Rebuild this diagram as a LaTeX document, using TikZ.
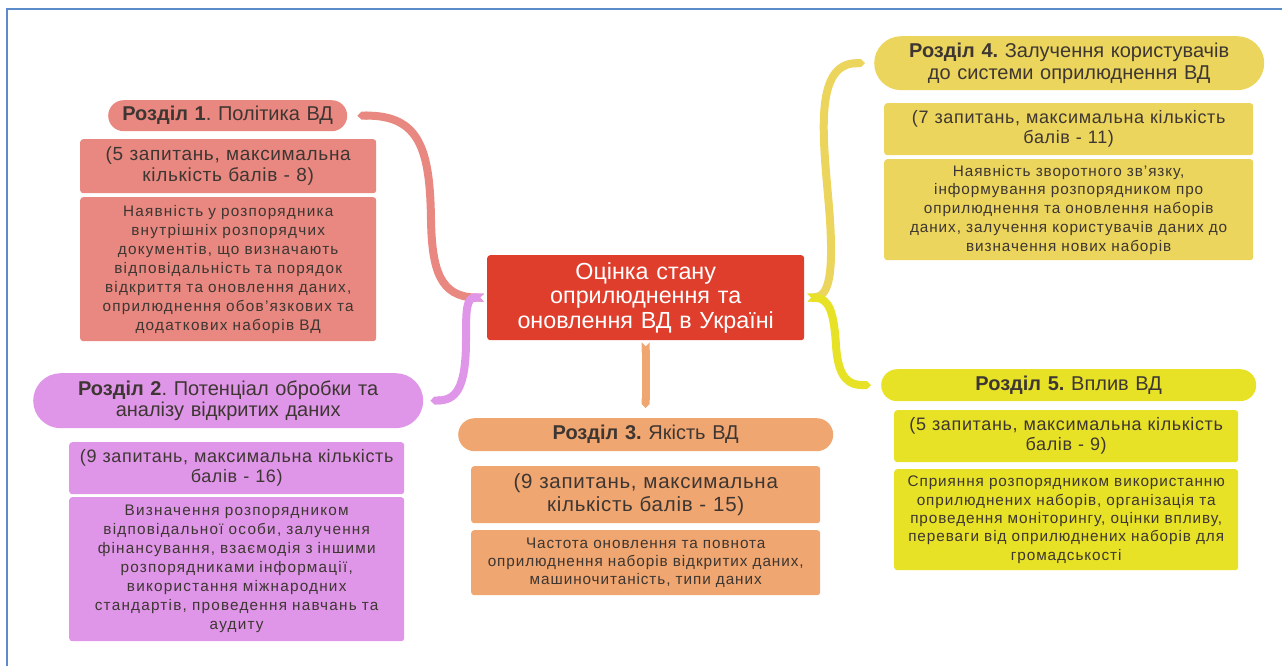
\documentclass[tikz,border=0pt]{standalone}
\usepackage{fontspec}
\setmainfont{Liberation Sans}
\newfontfamily\fq[LetterSpace=3.5]{Liberation Sans}
\newfontfamily\fb[LetterSpace=8]{Liberation Sans}
\newfontfamily\fc[LetterSpace=6]{Liberation Sans}
\frenchspacing
\usetikzlibrary{arrows.meta}
\definecolor{frameblue}{HTML}{5B8BC9}
\definecolor{cred}{HTML}{E03E2D}
\definecolor{cone}{HTML}{E88880}
\definecolor{ctwo}{HTML}{E096E8}
\definecolor{cthree}{HTML}{F0A670}
\definecolor{cfour}{HTML}{ECD55C}
\definecolor{cfive}{HTML}{E8E226}
\definecolor{txt}{HTML}{3D3632}
\tikzset{
  base/.style={rectangle, anchor=north west, inner sep=0pt, align=center, text=txt},
  pill/.style={base, font=\fontsize{20}{21.7}\selectfont},
  qbox/.style={base, rounded corners=3pt, font=\fq\fontsize{18}{20}\selectfont},
  dbox/.style={base, rounded corners=3pt, font=\fb\fontsize{15.3}{19}\selectfont},
  dboxs/.style={base, rounded corners=3pt, font=\fc\fontsize{15.3}{18.5}\selectfont},
  branch/.style={line width=8pt, {Triangle Cap[reversed]}-{Triangle Cap}},
  sz/.style n args={3}{minimum width=#1pt, minimum height=#2pt, text width=#3pt},
}
\begin{document}
\begin{tikzpicture}[x=1pt,y=-1pt]
\useasboundingbox (0,0) rectangle (1282,666);
\draw[frameblue, line width=2pt] (7,666) -- (7,9) -- (1282,9);

% central
\node[base, fill=cred, rounded corners=3pt, text=white, font=\fontsize{23.3}{24.5}\selectfont, sz={317}{85}{312}] (c) at (487,255)
  {Оцінка стану\\оприлюднення та\\оновлення ВД в Україні};

% section 1
\node[pill, fill=cone, rounded corners=15.5pt, sz={239}{31}{236}] (h1) at (108,100) {\textbf{Розділ 1}. Політика ВД};
\node[qbox, fill=cone, font=\fq\fontsize{19}{21}\selectfont, sz={296}{54}{294}] (a1) at (80,139) {(5 запитань, максимальна\\кількість балів - 8)};
\node[dbox, fill=cone, sz={296}{144}{294}] (b1) at (80,197) {Наявність у розпорядника\\внутрішніх розпорядчих\\документів, що визначають\\відповідальність та порядок\\відкриття та оновлення даних,\\оприлюднення обов’язкових та\\додаткових наборів ВД};

% section 2
\node[pill, fill=ctwo, rounded corners=27.5pt, sz={390}{55}{386}] (h2) at (33,373) {\textbf{Розділ 2}. Потенціал обробки та\\аналізу відкритих даних};
\node[qbox, fill=ctwo, sz={335}{52}{333}] (a2) at (69,442) {(9 запитань, максимальна кількість\\балів - 16)};
\node[dbox, fill=ctwo, sz={335}{144}{333}] (b2) at (69,497) {Визначення розпорядником\\відповідальної особи, залучення\\фінансування, взаємодія з іншими\\розпорядниками інформації,\\використання міжнародних\\стандартів, проведення навчань та\\аудиту};

% section 3
\node[pill, fill=cthree, rounded corners=16.5pt, sz={375}{33}{370}] (h3) at (458,418) {\textbf{Розділ 3.} Якість ВД};
\node[qbox, fill=cthree, font=\fq\fontsize{20.5}{23.3}\selectfont, sz={349}{57}{347}] (a3) at (471,466) {(9 запитань, максимальна\\кількість балів - 15)};
\node[dboxs, fill=cthree, font=\fc\fontsize{15.3}{18.3}\selectfont, sz={349}{65}{347}] (b3) at (471,530) {Частота оновлення та повнота\\оприлюднення наборів відкритих даних,\\машиночитаність, типи даних};

% section 4
\node[pill, fill=cfour, rounded corners=27pt, sz={390}{54}{386}] (h4) at (874,36) {\textbf{Розділ 4.} Залучення користувачів\\до системи оприлюднення ВД};
\node[qbox, fill=cfour, sz={369}{52}{367}] (a4) at (884,103) {(7 запитань, максимальна кількість\\балів - 11)};
\node[dboxs, fill=cfour, font=\fc\fontsize{15.3}{18.7}\selectfont, sz={369}{101}{367}] (b4) at (884,159) {Наявність зворотного зв’язку,\\інформування розпорядником про\\оприлюднення та оновлення наборів\\даних, залучення користувачів даних до\\визначення нових наборів};

% section 5
\node[pill, fill=cfive, rounded corners=16pt, sz={375}{32}{370}] (h5) at (881,369) {\textbf{Розділ 5.} Вплив ВД};
\node[qbox, fill=cfive, sz={344}{52}{342}] (a5) at (894,410) {(5 запитань, максимальна кількість\\балів - 9)};
\node[dboxs, fill=cfive, font=\fc\fontsize{15.3}{18.3}\selectfont, sz={344}{101}{342}] (b5) at (894,469) {Сприяння розпорядником використанню\\оприлюднених наборів, організація та\\проведення моніторингу, оцінки впливу,\\переваги від оприлюднених наборів для\\громадськості};

% branches
\draw[branch, cone] ([xshift=-3pt]c.west) .. controls (440,297) and (432,270) .. (431,220)
  .. controls (430,150) and (420,115) .. ([xshift=10pt]h1.east);
\draw[branch, ctwo] ([xshift=-3pt]c.west) .. controls (466,297) and (466,310) .. (466,340)
  .. controls (466,390) and (455,400) .. ([xshift=7pt]h2.east);
\draw[branch, cthree] ([yshift=-2pt]c.south) -- ([yshift=10pt]h3.north);
\draw[branch, cfour] ([xshift=3pt]c.east) .. controls (830,296) and (833,270) .. (830,220)
  .. controls (825,150) and (810,63) .. ([xshift=-9pt]h4.west);
\draw[branch, cfive] ([xshift=3pt]c.east) .. controls (830,298) and (834,315) .. (836,345)
  .. controls (838,380) and (850,385) .. ([xshift=-10pt]h5.west);
\end{tikzpicture}
\end{document}
